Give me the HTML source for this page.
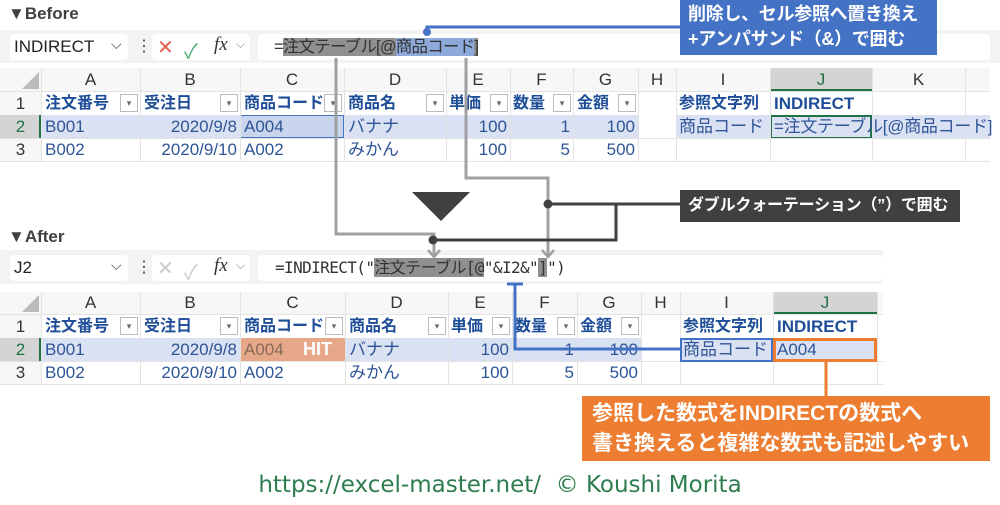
<!DOCTYPE html>
<html><head><meta charset="utf-8"><style>
*{margin:0;padding:0;box-sizing:border-box}
body{width:1000px;height:505px;background:#fff;position:relative;overflow:hidden;font-family:"Liberation Sans","Noto Sans CJK JP",sans-serif}
.a{position:absolute}
.t{position:absolute;font-size:17px;line-height:23px;white-space:nowrap;color:#2f5597}
.h{position:absolute;font-size:17px;line-height:22px;text-align:center;color:#333}
.b{font-weight:bold;color:#1f4e99;font-size:16px}
.dd{position:absolute;width:18px;height:18px;border:1px solid #bbb;background:#fff;font-size:9px;color:#666;text-align:center;line-height:17px}
.vl{position:absolute;width:1px;background:#e3e3e3}
.hl{position:absolute;height:1px;background:#e3e3e3}
.ttl{position:absolute;font-size:17px;font-weight:bold;color:#404040}
.bar{position:absolute;background:#f3f3f3}
.box{position:absolute;background:#fff;border-radius:4px}
</style></head><body>

<!-- BEFORE -->
<div class="ttl" style="left:8px;top:4px">▼Before</div>
<div class="bar" style="left:0;top:30px;width:1000px;height:33px"></div>
<div class="box" style="left:10px;top:34px;width:118px;height:26px"></div>
<div class="a" style="left:14px;top:37px;font-size:17px;color:#222">INDIRECT</div>
<div class="a" style="left:111px;top:36px;font-size:14px;color:#444">⌵</div>
<div class="a" style="left:136px;top:36px;font-size:16px;color:#444">⋮</div>
<div class="box" style="left:152px;top:34px;width:98px;height:26px"></div>
<div class="a" style="left:157px;top:35px;font-size:20px;color:#e06050;font-weight:lighter">✕</div>
<div class="a" style="left:184px;top:35px;font-size:20px;color:#4caf70">✓</div>
<div class="a" style="left:214px;top:34px;font-size:19px;color:#333;font-family:'Liberation Serif',serif;font-style:italic">fx</div>
<div class="a" style="left:236px;top:37px;font-size:12px;color:#888">⌵</div>
<div class="box" style="left:258px;top:34px;width:732px;height:26px"></div>
<div class="a" style="left:274px;top:36px;font-size:16.5px;line-height:22px;color:#333;white-space:nowrap;letter-spacing:-0.8px">=<span style="background:#909090">注文テーブル[@</span><span style="background:#8eaadb">商品コード</span><span style="background:#909090">]</span></div>

<!-- before grid -->
<div class="a" style="left:0;top:68px;width:990px;height:94px;background:#fff"></div>
<div class="a" style="left:0;top:68px;width:990px;height:23px;background:#f7f7f7"></div>
<div class="a" style="left:0;top:68px;width:41px;height:94px;background:#f7f7f7"></div>
<div class="a" style="left:22px;top:72px;width:0;height:0;border-left:17px solid transparent;border-bottom:17px solid #bbb"></div>
<div class="a" style="left:770px;top:68px;width:102px;height:23px;background:#d4d4d4;border-bottom:2px solid #217346"></div>
<div class="a" style="left:0;top:115px;width:41px;height:23px;background:#d4d4d4;border-right:2px solid #217346"></div>
<div class="a" style="left:41px;top:115px;width:597px;height:23px;background:#d9e1f2"></div>
<div class="a" style="left:676px;top:115px;width:314px;height:23px;background:#d9e1f2"></div>
<div class="a" style="left:240px;top:115px;width:104px;height:23px;background:#c9d5ec;border:1px solid #4472c4"></div>
<div class="a" style="left:770px;top:115px;width:102px;height:24px;border:2px solid #217346"></div>
<div class="vl" style="left:41px;top:68px;height:94px"></div><div class="vl" style="left:140px;top:68px;height:94px"></div><div class="vl" style="left:240px;top:68px;height:94px"></div><div class="vl" style="left:344px;top:68px;height:94px"></div><div class="vl" style="left:446px;top:68px;height:94px"></div><div class="vl" style="left:510px;top:68px;height:94px"></div><div class="vl" style="left:573px;top:68px;height:94px"></div><div class="vl" style="left:638px;top:68px;height:94px"></div><div class="vl" style="left:676px;top:68px;height:94px"></div><div class="vl" style="left:770px;top:68px;height:94px"></div><div class="vl" style="left:872px;top:68px;height:94px"></div><div class="vl" style="left:965px;top:68px;height:94px"></div>
<div class="hl" style="left:0;top:91px;width:990px"></div><div class="hl" style="left:0;top:138px;width:990px"></div><div class="hl" style="left:0;top:161px;width:990px"></div>
<div class="h" style="left:41px;top:69px;width:99px">A</div><div class="h" style="left:140px;top:69px;width:100px">B</div><div class="h" style="left:240px;top:69px;width:104px">C</div><div class="h" style="left:344px;top:69px;width:102px">D</div><div class="h" style="left:446px;top:69px;width:64px">E</div><div class="h" style="left:510px;top:69px;width:63px">F</div><div class="h" style="left:573px;top:69px;width:65px">G</div><div class="h" style="left:638px;top:69px;width:38px">H</div><div class="h" style="left:676px;top:69px;width:94px">I</div><div class="h" style="left:770px;top:69px;width:102px;color:#217346">J</div><div class="h" style="left:872px;top:69px;width:93px">K</div>
<div class="h" style="left:0;top:92px;width:41px;line-height:23px">1</div><div class="h" style="left:0;top:115px;width:41px;line-height:23px;color:#217346">2</div><div class="h" style="left:0;top:138px;width:41px;line-height:23px">3</div>
<div class="t b" style="left:45px;top:92px">注文番号</div><div class="dd" style="left:120px;top:94px">▾</div>
<div class="t b" style="left:144px;top:92px">受注日</div><div class="dd" style="left:220px;top:94px">▾</div>
<div class="t b" style="left:244px;top:92px">商品コード</div><div class="dd" style="left:324px;top:94px">▾</div>
<div class="t b" style="left:348px;top:92px">商品名</div><div class="dd" style="left:426px;top:94px">▾</div>
<div class="t b" style="left:449px;top:92px">単価</div><div class="dd" style="left:490px;top:94px">▾</div>
<div class="t b" style="left:513px;top:92px">数量</div><div class="dd" style="left:553px;top:94px">▾</div>
<div class="t b" style="left:577px;top:92px">金額</div><div class="dd" style="left:618px;top:94px">▾</div>
<div class="t b" style="left:679px;top:92px">参照文字列</div><div class="t b" style="left:774px;top:92px;font-size:17px">INDIRECT</div>
<div class="t" style="left:45px;top:115px">B001</div><div class="t" style="left:140px;top:115px;width:97px;text-align:right">2020/9/8</div><div class="t" style="left:244px;top:115px">A004</div><div class="t" style="left:348px;top:115px">バナナ</div><div class="t" style="left:446px;top:115px;width:61px;text-align:right">100</div><div class="t" style="left:510px;top:115px;width:60px;text-align:right">1</div><div class="t" style="left:573px;top:115px;width:62px;text-align:right">100</div><div class="t" style="left:679px;top:115px">商品コード</div><div class="t" style="left:774px;top:115px;letter-spacing:-0.3px">=注文テーブル[@商品コード]</div>
<div class="t" style="left:45px;top:138px">B002</div><div class="t" style="left:140px;top:138px;width:97px;text-align:right">2020/9/10</div><div class="t" style="left:244px;top:138px">A002</div><div class="t" style="left:348px;top:138px">みかん</div><div class="t" style="left:446px;top:138px;width:61px;text-align:right">100</div><div class="t" style="left:510px;top:138px;width:60px;text-align:right">5</div><div class="t" style="left:573px;top:138px;width:62px;text-align:right">500</div>

<!-- AFTER -->
<div class="ttl" style="left:8px;top:227px">▼After</div>
<div class="bar" style="left:0;top:250px;width:883px;height:34px"></div>
<div class="box" style="left:10px;top:255px;width:118px;height:26px"></div>
<div class="a" style="left:14px;top:258px;font-size:17px;color:#222">J2</div>
<div class="a" style="left:111px;top:257px;font-size:14px;color:#444">⌵</div>
<div class="a" style="left:136px;top:257px;font-size:16px;color:#444">⋮</div>
<div class="box" style="left:152px;top:255px;width:98px;height:26px"></div>
<div class="a" style="left:157px;top:256px;font-size:20px;color:#ccc">✕</div>
<div class="a" style="left:184px;top:256px;font-size:20px;color:#ccc">✓</div>
<div class="a" style="left:214px;top:255px;font-size:19px;color:#333;font-family:'Liberation Serif',serif;font-style:italic">fx</div>
<div class="a" style="left:236px;top:258px;font-size:12px;color:#888">⌵</div>
<div class="box" style="left:258px;top:255px;width:625px;height:26px"></div>
<div class="a" style="left:275px;top:257px;font-size:16px;line-height:22px;color:#333;white-space:nowrap;font-family:'DejaVu Sans Mono','Noto Sans CJK JP',monospace;letter-spacing:-0.6px">=INDIRECT("<span style="background:#909090">注文テーブル[@</span>"&amp;I2&amp;"<span style="background:#909090">]</span>")</div>

<div class="a" style="left:0;top:292px;width:883px;height:93px;background:#fff"></div>
<div class="a" style="left:0;top:292px;width:883px;height:22px;background:#f7f7f7"></div>
<div class="a" style="left:0;top:292px;width:41px;height:93px;background:#f7f7f7"></div>
<div class="a" style="left:22px;top:295px;width:0;height:0;border-left:17px solid transparent;border-bottom:17px solid #bbb"></div>
<div class="a" style="left:773px;top:292px;width:104px;height:22px;background:#d4d4d4;border-bottom:2px solid #217346"></div>
<div class="a" style="left:0;top:338px;width:41px;height:23px;background:#d4d4d4;border-right:2px solid #217346"></div>
<div class="a" style="left:41px;top:338px;width:600px;height:23px;background:#d9e1f2"></div>
<div class="a" style="left:680px;top:338px;width:197px;height:23px;background:#d9e1f2"></div>
<div class="a" style="left:240px;top:338px;width:105px;height:23px;background:#e6a888"></div>
<div class="vl" style="left:41px;top:292px;height:93px"></div><div class="vl" style="left:140px;top:292px;height:93px"></div><div class="vl" style="left:240px;top:292px;height:93px"></div><div class="vl" style="left:345px;top:292px;height:93px"></div><div class="vl" style="left:448px;top:292px;height:93px"></div><div class="vl" style="left:512px;top:292px;height:93px"></div><div class="vl" style="left:577px;top:292px;height:93px"></div><div class="vl" style="left:641px;top:292px;height:93px"></div><div class="vl" style="left:680px;top:292px;height:93px"></div><div class="vl" style="left:773px;top:292px;height:93px"></div><div class="vl" style="left:877px;top:292px;height:93px"></div>
<div class="hl" style="left:0;top:314px;width:883px"></div><div class="hl" style="left:0;top:361px;width:883px"></div><div class="hl" style="left:0;top:384px;width:883px"></div>
<div class="h" style="left:41px;top:292px;width:99px">A</div><div class="h" style="left:140px;top:292px;width:100px">B</div><div class="h" style="left:240px;top:292px;width:105px">C</div><div class="h" style="left:345px;top:292px;width:103px">D</div><div class="h" style="left:448px;top:292px;width:64px">E</div><div class="h" style="left:512px;top:292px;width:65px">F</div><div class="h" style="left:577px;top:292px;width:64px">G</div><div class="h" style="left:641px;top:292px;width:39px">H</div><div class="h" style="left:680px;top:292px;width:93px">I</div><div class="h" style="left:773px;top:292px;width:104px;color:#217346">J</div>
<div class="h" style="left:0;top:315px;width:41px;line-height:23px">1</div><div class="h" style="left:0;top:338px;width:41px;line-height:23px;color:#217346">2</div><div class="h" style="left:0;top:361px;width:41px;line-height:23px">3</div>
<div class="t b" style="left:45px;top:315px">注文番号</div><div class="dd" style="left:120px;top:317px">▾</div>
<div class="t b" style="left:144px;top:315px">受注日</div><div class="dd" style="left:220px;top:317px">▾</div>
<div class="t b" style="left:244px;top:315px">商品コード</div><div class="dd" style="left:325px;top:317px">▾</div>
<div class="t b" style="left:349px;top:315px">商品名</div><div class="dd" style="left:428px;top:317px">▾</div>
<div class="t b" style="left:451px;top:315px">単価</div><div class="dd" style="left:492px;top:317px">▾</div>
<div class="t b" style="left:515px;top:315px">数量</div><div class="dd" style="left:557px;top:317px">▾</div>
<div class="t b" style="left:580px;top:315px">金額</div><div class="dd" style="left:621px;top:317px">▾</div>
<div class="t b" style="left:683px;top:315px">参照文字列</div><div class="t b" style="left:777px;top:315px;font-size:17px">INDIRECT</div>
<div class="t" style="left:45px;top:338px">B001</div><div class="t" style="left:140px;top:338px;width:97px;text-align:right">2020/9/8</div><div class="t" style="left:244px;top:338px;color:#8a6a5a">A004</div><div class="a" style="left:303px;top:338px;font-size:18px;line-height:23px;font-weight:bold;color:#fff">HIT</div><div class="t" style="left:349px;top:338px">バナナ</div><div class="t" style="left:448px;top:338px;width:61px;text-align:right">100</div><div class="t" style="left:512px;top:338px;width:62px;text-align:right">1</div><div class="t" style="left:577px;top:338px;width:61px;text-align:right">100</div><div class="t" style="left:683px;top:338px">商品コード</div><div class="t" style="left:777px;top:338px">A004</div>
<div class="t" style="left:45px;top:361px">B002</div><div class="t" style="left:140px;top:361px;width:97px;text-align:right">2020/9/10</div><div class="t" style="left:244px;top:361px">A002</div><div class="t" style="left:349px;top:361px">みかん</div><div class="t" style="left:448px;top:361px;width:61px;text-align:right">100</div><div class="t" style="left:512px;top:361px;width:62px;text-align:right">5</div><div class="t" style="left:577px;top:361px;width:61px;text-align:right">500</div>
<div class="a" style="left:680px;top:338px;width:93px;height:24px;border:2px solid #4472c4"></div>
<div class="a" style="left:773px;top:338px;width:104px;height:24px;border:3px solid #ed7d31"></div>

<!-- connectors -->
<svg class="a" style="left:0;top:0" width="1000" height="505">
<polyline points="427,32 427,27 682,27" fill="none" stroke="#4472c4" stroke-width="3"/>
<circle cx="427" cy="32" r="4" fill="#4472c4"/>
<polyline points="336,58 336,234 434,234 434,256" fill="none" stroke="#a0a0a0" stroke-width="3"/>
<polyline points="466,58 466,178 548,178 548,256" fill="none" stroke="#a0a0a0" stroke-width="3"/>
<polyline points="428,250 434,257 440,250" fill="none" stroke="#a0a0a0" stroke-width="2.5"/>
<polyline points="542,250 548,257 554,250" fill="none" stroke="#a0a0a0" stroke-width="2.5"/>
<polygon points="412,192 470,192 441,221" fill="#404040"/>
<polyline points="548,204 682,204" fill="none" stroke="#404040" stroke-width="3"/>
<polyline points="616,204 616,240 433,240" fill="none" stroke="#404040" stroke-width="3"/>
<circle cx="548" cy="204" r="4.5" fill="#404040"/>
<circle cx="433" cy="240" r="4.5" fill="#404040"/>
<polyline points="507,284 523,284" fill="none" stroke="#4472c4" stroke-width="3"/>
<polyline points="515,284 515,349 680,349" fill="none" stroke="#4472c4" stroke-width="3"/>
<polyline points="826,362 826,397" fill="none" stroke="#ed7d31" stroke-width="3"/>
</svg>

<div class="a" style="left:680px;top:0;width:257px;height:55px;background:#4472c4;color:#fff;font-weight:bold;font-size:18px;line-height:25px;padding:2px 0 0 8px;white-space:nowrap;letter-spacing:-0.3px">削除し、セル参照へ置き換え<br>+アンパサンド（&amp;）で囲む</div>
<div class="a" style="left:680px;top:190px;width:280px;height:32px;background:#404040;color:#fff;font-weight:bold;font-size:16px;line-height:32px;padding-left:8px;white-space:nowrap;letter-spacing:-0.2px">ダブルクォーテーション（”）で囲む</div>
<div class="a" style="left:582px;top:396px;width:408px;height:65px;background:#ed7d31;color:#fff;font-weight:bold;font-size:21px;line-height:30px;padding:3px 0 0 10px;white-space:nowrap">参照した数式をINDIRECTの数式へ<br>書き換えると複雑な数式も記述しやすい</div>

<div class="a" style="left:0;top:470px;width:1000px;text-align:center;font-size:23px;line-height:30px;color:#2e7d4f;font-family:'DejaVu Sans',sans-serif">https://excel-master.net/&nbsp; © Koushi Morita</div>
</body></html>
